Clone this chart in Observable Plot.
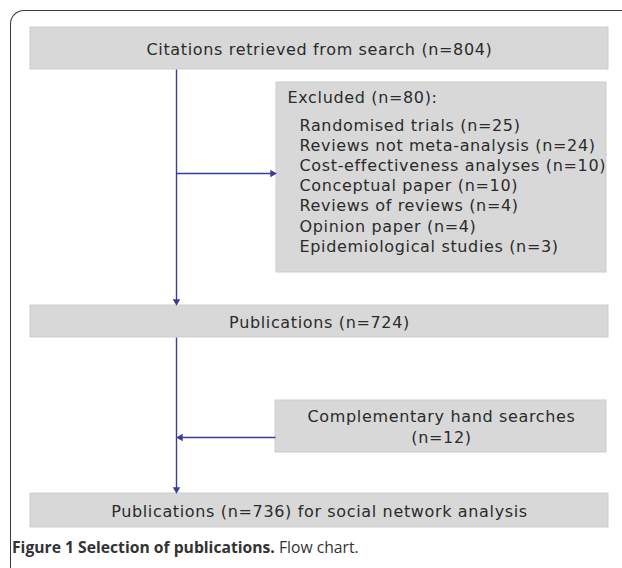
<!DOCTYPE html>
<html>
<head>
<meta charset="utf-8">
<script src="https://cdn.jsdelivr.net/npm/d3@7"></script>
<script src="https://cdn.jsdelivr.net/npm/@observablehq/plot@0.6"></script>
<style>
  html, body { margin: 0; padding: 0; background: #fff; overflow: hidden; }
  #frame { position: absolute; left: 10px; top: 10px; width: 700px; height: 640px;
           border-left: 1.8px solid #3a3a3a; border-top: 1.8px solid #3a3a3a;
           border-top-left-radius: 14px; box-sizing: border-box; }
  #chart { position: absolute; left: 0; top: 0; }
  #chart svg text { letter-spacing: 0.65px; }
  #caption { position: absolute; left: 12px; top: 536px; font-family: "Open Sans", sans-serif;
             font-size: 15.7px; color: #333; white-space: nowrap; }
  #caption b { font-weight: 700; }
</style>
</head>
<body>
<div id="frame"></div>
<div id="chart"></div>
<div id="caption"><b>Figure 1 Selection of publications.</b> Flow chart.</div>
<script>
// ---- data ----
const mainSteps = [
  "Citations retrieved from search (n=804)",
  "Publications (n=724)",
  "Publications (n=736) for social network analysis"
];
const excludedTitle = "Excluded (n=80):";
const excludedReasons = [
  "Randomised trials", "Reviews not meta-analysis", "Cost-effectiveness analyses",
  "Conceptual paper", "Reviews of reviews", "Opinion paper", "Epidemiological studies"
];
const excludedCounts = [25, 24, 10, 10, 4, 4, 3];
const handSearchLines = ["Complementary hand searches", "(n=12)"];

// ---- layout ----
const W = 622, H = 530;
const mainX = [30, 608], sideX = [276, 606], trunkX = 176;
const mainY = [[27, 69], [305, 337], [493, 527]];
const exclY = [82, 272], handY = [400, 452];
const font = "DejaVu Sans, sans-serif";
const ink = "#2b2b2b", blue = "#3b3b9e";

const mainBoxes = mainSteps.map((label, i) => ({label, x1: mainX[0], x2: mainX[1], y1: mainY[i][0], y2: mainY[i][1]}));
const sideBoxes = [
  {x1: sideX[0], x2: sideX[1], y1: exclY[0], y2: exclY[1]},
  {x1: sideX[0] - 1, x2: sideX[1], y1: handY[0], y2: handY[1]}
];
const exclLines = excludedReasons.map((r, i) => ({text: `${r} (n=${excludedCounts[i]})`, i}));
const handLines = handSearchLines.map((t, i) => ({text: t, i}));

const linksV = [
  {x1: trunkX, y1: mainY[0][1], x2: trunkX, y2: mainY[1][0] - 3},
  {x1: trunkX, y1: mainY[1][1], x2: trunkX, y2: mainY[2][0] - 3}
];
const armY = 173, handArmY = 437;
const linksH = [
  {x1: trunkX, y1: armY, x2: sideX[0] - 3, y2: armY},
  {x1: sideX[0] - 1, y1: handArmY, x2: trunkX + 3, y2: handArmY}
];
const heads = [
  {x: trunkX, y: mainY[1][0] - 4, rot: 180},
  {x: trunkX, y: mainY[2][0] - 4, rot: 180},
  {x: sideX[0] - 4, y: armY, rot: 90},
  {x: trunkX + 4, y: handArmY, rot: -90}
];

const chart = Plot.plot({
  width: W, height: H, margin: 0,
  x: {domain: [0, W], axis: null},
  y: {domain: [H, 0], axis: null},
  marks: [
    Plot.rect(mainBoxes, {x1: "x1", x2: "x2", y1: "y1", y2: "y2", fill: "#d8d8d8", stroke: "#cdcdcd"}),
    Plot.rect(sideBoxes, {x1: "x1", x2: "x2", y1: "y1", y2: "y2", fill: "#d8d8d8", stroke: "#cdcdcd"}),
    Plot.link(linksV, {x1: "x1", y1: "y1", x2: "x2", y2: "y2", stroke: blue, strokeWidth: 1.4}),
    Plot.link(linksH, {x1: "x1", y1: "y1", x2: "x2", y2: "y2", stroke: blue, strokeWidth: 1.4}),
    Plot.dot(heads, {x: "x", y: "y", rotate: "rot", symbol: "triangle2", r: 3.6, fill: blue, stroke: "none"}),
    Plot.text(mainBoxes, {x: d => (d.x1 + d.x2) / 2, y: d => (d.y1 + d.y2) / 2 + 1, text: "label",
      fontSize: 16, fontFamily: font, fill: ink}),
    Plot.text([excludedTitle], {x: sideX[0] + 11, y: exclY[0] + 15, text: d => d, textAnchor: "start",
      fontSize: 16, fontFamily: font, fill: ink}),
    Plot.text(exclLines, {x: sideX[0] + 23, y: d => 125 + d.i * 20.2, text: "text", textAnchor: "start",
      fontSize: 16, fontFamily: font, fill: ink}),
    Plot.text(handLines, {x: (sideX[0] + sideX[1]) / 2, y: d => 416 + d.i * 21, text: "text",
      fontSize: 16, fontFamily: font, fill: ink})
  ]
});
document.getElementById("chart").appendChild(chart);
</script>
</body>
</html>
